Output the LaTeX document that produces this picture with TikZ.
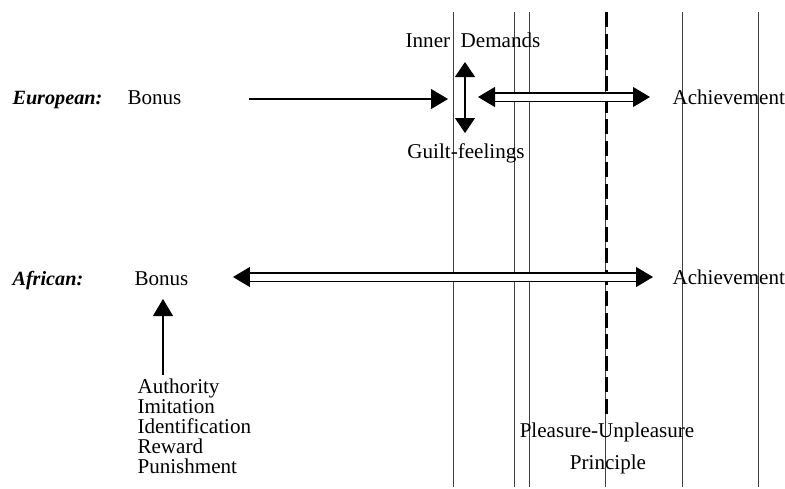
\documentclass[tikz,border=0pt]{standalone}
\usepackage{fontspec}
\setmainfont{Liberation Serif}
\usetikzlibrary{arrows.meta}
\usetikzlibrary{positioning}

\begin{document}
\begin{tikzpicture}[x=0.02cm,y=-0.02cm,semithick,
    >={Triangle[length=0.34cm,width=0.4cm]},
    every node/.style={inner sep=0pt,font=\fontsize{12}{14}\selectfont}]
  \tikzstyle{rule}=[very thin,black!75]
  \tikzstyle{group}=[font=\fontsize{11.5}{14}\selectfont\bfseries\itshape]
  \tikzstyle{word}=[anchor=base west]
  \tikzstyle{dbl}=[<->,double,double distance=0.14cm,semithick]
  \useasboundingbox (0,0) rectangle (785,488);
  % vertical rules
  \foreach \x in {453,514,529,605,682,758}
    \draw[rule] (\x,12) -- (\x,487);
  \draw[line width=2.2pt,dash pattern=on 0.3cm off 0.13cm] (606.5,12) -- (606.5,415);
  % European row
  \node[group,word] (eur)    at (12,104)  {European:};
  \node[word]       (bonusE) at (127,104) {Bonus};
  \node[word]       (achE)   at (672,104) {Achievement};
  \node[anchor=base] (inner) at (473,47)  {Inner\ \ Demands};
  \node[anchor=base] (guilt) at (466,158) {Guilt-feelings};
  \coordinate (eFrom) at (249,99);
  \coordinate (eTo)   at (448,99);
  \coordinate (vTop)  at (465,62);
  \coordinate (vBot)  at (465,133);
  \coordinate (dL)    at (478,97);
  \coordinate (dR)    at (650,97);
  % African row
  \node[group,word] (afr)    at (12,285)  {African:};
  \node[word]       (bonusA) at (134,285) {Bonus};
  \node[word]       (achA)   at (672,284) {Achievement};
  \node[anchor=north west,align=left,font=\fontsize{12}{11.4}\selectfont]
        (means) at (137,378) {Authority\\Imitation\\Identification\\Reward\\Punishment};
  \coordinate (aL) at (233,277);
  \coordinate (aR) at (653,277);
  \coordinate (uBot) at (163,375);
  \coordinate (uTop) at (163,299);
  % principle
  \node[anchor=base] (pup)  at (607,437) {Pleasure-Unpleasure};
  \node[anchor=base] (prin) at (608,469) {Principle};
  \path
     (eFrom) edge [->] (eTo)
     (vTop)  edge [<->,>={Triangle[length=0.3cm,width=0.4cm]}] (vBot)
     (dL)    edge [dbl] (dR)
     (aL)    edge [dbl] (aR)
     (uBot)  edge [->] (uTop);
\end{tikzpicture}
\end{document}
